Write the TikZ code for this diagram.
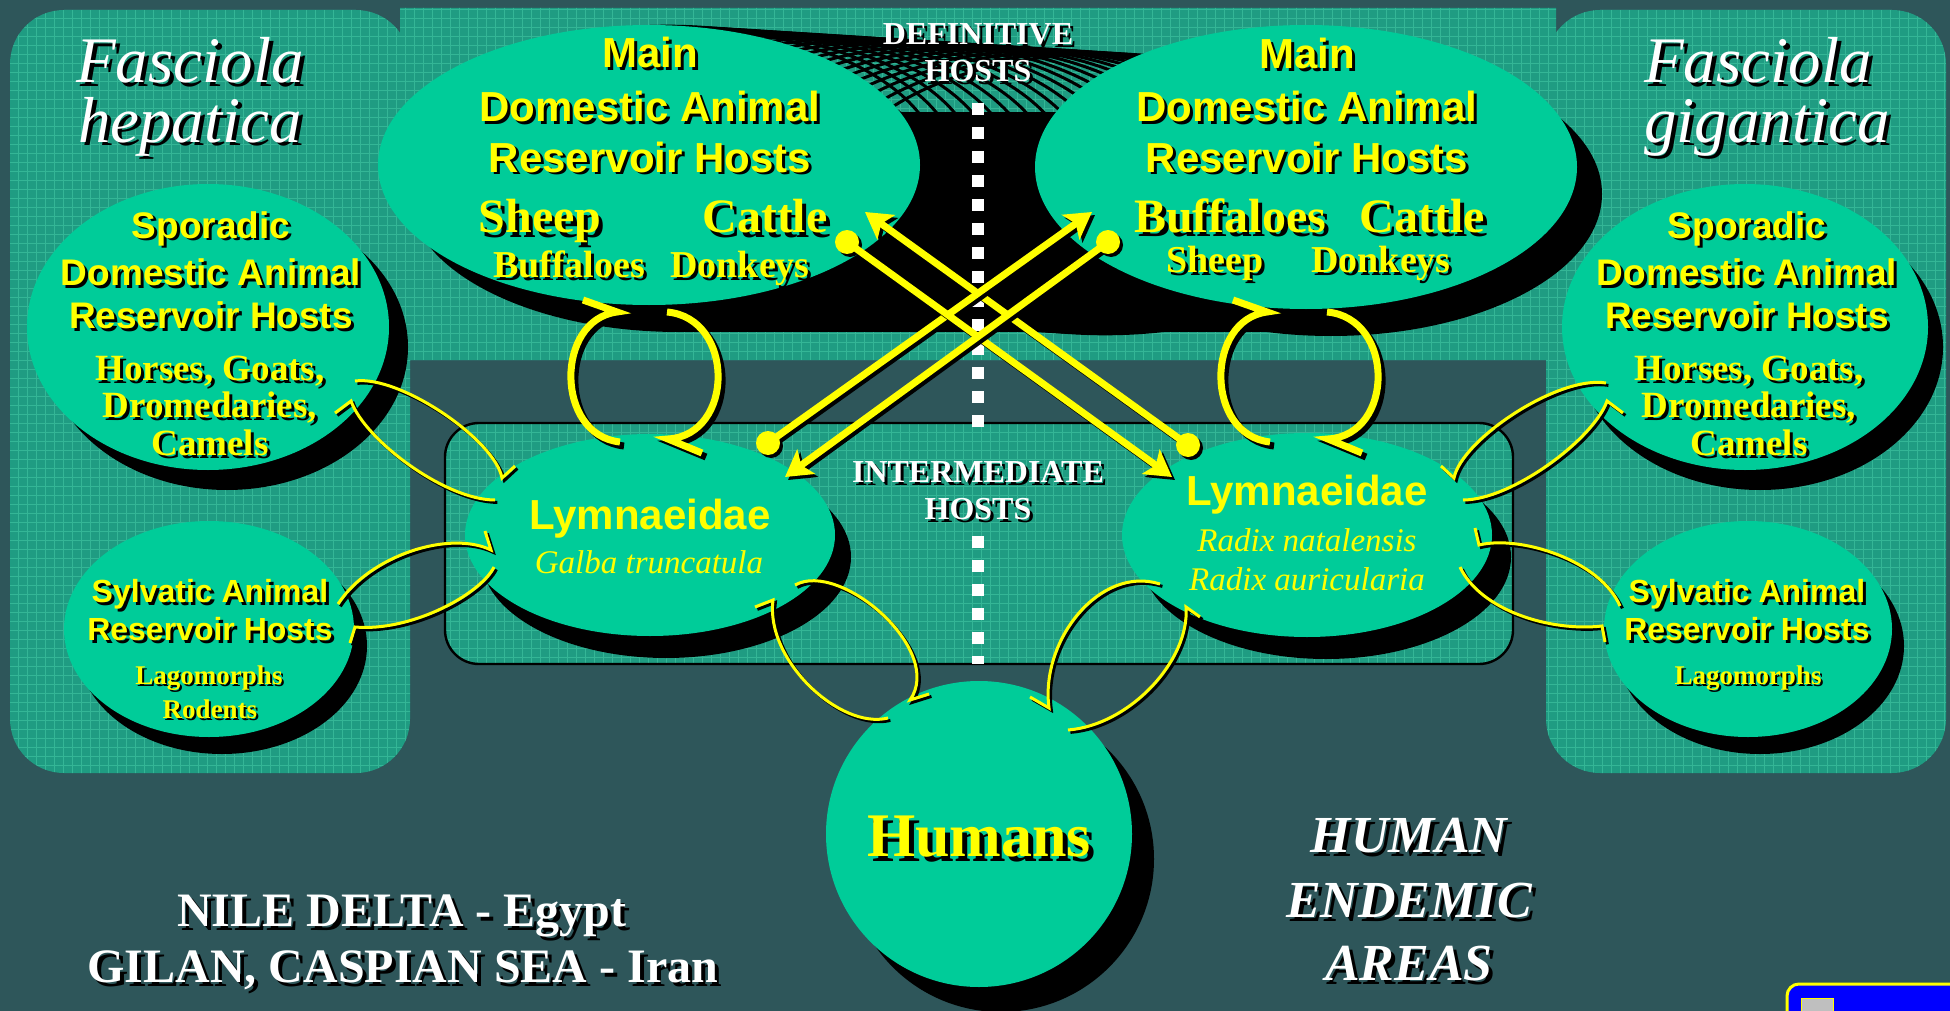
\documentclass[tikz,border=0pt]{standalone}
\usepackage{fontspec}
\setmainfont{Liberation Serif}
\setsansfont{Liberation Sans}
\usetikzlibrary{shapes.geometric,arrows.meta,shadows}
\definecolor{bgdark}{HTML}{2E565A}
\definecolor{panelc}{HTML}{1F9C82}
\definecolor{gridc}{HTML}{46CCA8}
\definecolor{ellc}{HTML}{00CC99}
\definecolor{yel}{HTML}{FFFF00}
\newcommand\stx[6][1.5pt]{%
  \node[#2,text=black,xshift=#1,yshift=-#1] (#5-s) at (#3,#4) {#6};%
  \node[#2] (#5) at (#3,#4) {#6};}
\newcommand\tcurve[7][1.2pt]{%
  \draw[#2,draw=black,transform canvas={xshift=#1,yshift=-#1}] #3 .. controls #4 and #5 .. #6 -- #7;%
  \draw[#2] #3 .. controls #4 and #5 .. #6 -- #7;}
\newcommand\xar[2]{%
  \fill[black,transform canvas={xshift=1.5pt,yshift=-1.5pt}] (#1) circle[radius=6pt];%
  \draw[xarr,draw=black,transform canvas={xshift=1.5pt,yshift=-1.5pt}] (#1) -- (#2);%
  \fill[yel] (#1) circle[radius=6pt];%
  \draw[xarr] (#1) -- (#2);}
\def\tealpath{[rounded corners=27pt] (10,10) rectangle (410,773) (1546,10) rectangle (1946,773)
  [sharp corners] (400,8) rectangle (1556,360)}
\begin{document}
\begin{tikzpicture}[x=0.5pt,y=-0.5pt,
 elln/.style={ellipse,fill=ellc,inner sep=0pt},
 dsh/.style 2 args={drop shadow={shadow xshift=#1,shadow yshift=-#2,fill=black,opacity=1}},
 tx/.style={anchor=base,inner sep=0pt},
 ttl/.style={tx,font=\fontsize{32.5}{36}\selectfont\itshape,text=white},
 hst/.style={tx,font=\fontsize{16}{18}\selectfont\bfseries,text=white},
 msans/.style={tx,font=\sffamily\bfseries\fontsize{21}{24}\selectfont,text=yel},
 bigser/.style={tx,font=\bfseries\fontsize{24}{26}\selectfont,text=yel},
 smser/.style={tx,font=\bfseries\fontsize{19}{21}\selectfont,text=yel},
 ssans/.style={tx,font=\sffamily\bfseries\fontsize{18.5}{20}\selectfont,text=yel},
 sser/.style={tx,font=\bfseries\fontsize{18.5}{20}\selectfont,text=yel},
 sylsans/.style={tx,font=\sffamily\bfseries\fontsize{16}{18}\selectfont,text=yel},
 lagser/.style={tx,font=\bfseries\fontsize{13.5}{15}\selectfont,text=yel},
 lymf/.style={tx,font=\sffamily\bfseries\fontsize{21}{24}\selectfont,text=yel},
 spec/.style={tx,font=\itshape\fontsize{16.5}{18}\selectfont,text=yel},
 humf/.style={tx,font=\bfseries\fontsize{31}{34}\selectfont,text=yel},
 place/.style={tx,font=\bfseries\fontsize{24}{26}\selectfont,text=white},
 endem/.style={tx,font=\bfseries\itshape\fontsize{26}{28}\selectfont,text=white},
 tarc/.style={draw=yel,line width=3.5pt,line join=miter,miter limit=8},
 tloop/.style={draw=yel,line width=1.5pt,line join=miter,miter limit=8},
 xarr/.style={draw=yel,line width=3.5pt,-{Stealth[length=13pt,width=15pt,inset=3pt]}},
]
\useasboundingbox (0,0) rectangle (1950,1011);
% background
\fill[bgdark] (0,0) rectangle (1950,1011);
% teal grid regions
\fill[panelc] \tealpath;
\fill[panelc,rounded corners=17pt] (445,423) rectangle (1513,664);
\begin{scope}
  \clip \tealpath;
  \draw[gridc,line width=0.35pt,opacity=0.55,step=4.5pt] (0,0) grid (1950,1011);
\end{scope}
\begin{scope}
  \clip[rounded corners=17pt] (445,423) rectangle (1513,664);
  \draw[gridc,line width=0.35pt,opacity=0.55,step=4.5pt] (0,0) grid (1950,1011);
\end{scope}
\draw[black,line width=1.2pt,rounded corners=17pt] (445,423) rectangle (1513,664);
% extruded shadow of the definitive-host ellipses
\foreach \k in {1,...,24} {
  \draw[black,line width=1.5pt] (649+\k*19,165+\k*1.2) ellipse[x radius=135.5pt,y radius=70pt];
}
\fill[black] (679,192) ellipse[x radius=135.5pt,y radius=70pt];
\fill[black] (1331,194) ellipse[x radius=135.5pt,y radius=71pt];
\fill[black] (679,112) rectangle (1331,332);
\node[elln,minimum width=271pt,minimum height=140pt] (mainL) at (649,165) {};
\node[elln,minimum width=271pt,minimum height=142pt] (mainR) at (1306,167) {};
% dashed separator
\draw[white,line width=6pt,dash pattern=on 6pt off 6pt] (978,103) -- (978,427);
\draw[white,line width=6pt,dash pattern=on 6pt off 6pt] (978,536) -- (978,664);
% other ellipses
\node[elln,minimum width=181pt,minimum height=143pt,dsh={9.5pt}{10pt}] (spoL) at (208,327) {};
\node[elln,minimum width=183pt,minimum height=143pt,dsh={7.5pt}{10pt}] (spoR) at (1745,327) {};
\node[elln,minimum width=145pt,minimum height=108pt,dsh={6.5pt}{8.5pt}] (sylL) at (209,629) {};
\node[elln,minimum width=144pt,minimum height=108pt,dsh={6pt}{8.5pt}] (sylR) at (1748,629) {};
\node[elln,minimum width=185pt,minimum height=101pt,dsh={8pt}{11pt}] (lymL) at (650,535) {};
\node[elln,minimum width=185pt,minimum height=102pt,dsh={9.5pt}{11pt}] (lymR) at (1307,535) {};
\node[elln,minimum width=153pt,minimum height=153pt,dsh={11pt}{12.5pt}] (hum) at (979,834) {};
% texts
\stx[2pt]{ttl}{190}{83}{tfL}{Fasciola}
\stx[2pt]{ttl}{190}{142}{thL}{hepatica}
\stx[2pt]{ttl}{1758}{83}{tfR}{Fasciola}
\stx[2pt]{ttl}{1767}{142}{tgR}{gigantica}
\stx{hst}{978}{45}{dh1}{DEFINITIVE}
\stx{hst}{978}{82}{dh2}{HOSTS}
\stx{hst}{978}{482}{ih1}{INTERMEDIATE}
\stx{hst}{978}{519}{ih2}{HOSTS}
\stx{msans}{650}{68}{mL1}{Main}
\stx{msans}{650}{122}{mL2}{Domestic Animal}
\stx{msans}{650}{172}{mL3}{Reservoir Hosts}
\stx{msans}{1307}{69}{mR1}{Main}
\stx{msans}{1307}{122}{mR2}{Domestic Animal}
\stx{msans}{1307}{172}{mR3}{Reservoir Hosts}
\stx[2pt]{bigser}{540}{233}{sheepL}{Sheep}
\stx[2pt]{bigser}{765}{233}{cattleL}{Cattle}
\stx[2pt]{bigser}{1230}{232}{buffR}{Buffaloes}
\stx[2pt]{bigser}{1422}{232}{cattleR}{Cattle}
\stx{smser}{569}{277}{buffL}{Buffaloes}
\stx{smser}{740}{277}{donkL}{Donkeys}
\stx{smser}{1215}{272}{sheepR}{Sheep}
\stx{smser}{1381}{272}{donkR}{Donkeys}
\stx{ssans}{211}{238}{sL1}{Sporadic}
\stx{ssans}{211}{285}{sL2}{Domestic Animal}
\stx{ssans}{211}{328}{sL3}{Reservoir Hosts}
\stx{sser}{210}{380}{sL4}{Horses, Goats,}
\stx{sser}{210}{417}{sL5}{Dromedaries,}
\stx{sser}{210}{455}{sL6}{Camels}
\stx{ssans}{1747}{238}{sR1}{Sporadic}
\stx{ssans}{1747}{285}{sR2}{Domestic Animal}
\stx{ssans}{1747}{328}{sR3}{Reservoir Hosts}
\stx{sser}{1749}{380}{sR4}{Horses, Goats,}
\stx{sser}{1749}{417}{sR5}{Dromedaries,}
\stx{sser}{1749}{455}{sR6}{Camels}
\stx{sylsans}{210}{602}{yL1}{Sylvatic Animal}
\stx{sylsans}{210}{640}{yL2}{Reservoir Hosts}
\stx[1pt]{lagser}{209}{684}{yL3}{Lagomorphs}
\stx[1pt]{lagser}{210}{718}{yL4}{Rodents}
\stx{sylsans}{1747}{602}{yR1}{Sylvatic Animal}
\stx{sylsans}{1747}{640}{yR2}{Reservoir Hosts}
\stx[1pt]{lagser}{1748}{684}{yR3}{Lagomorphs}
\node[lymf] (lyL) at (650,529) {Lymnaeidae};
\node[spec] (galba) at (649,573) {Galba truncatula};
\node[lymf] (lyR) at (1307,505) {Lymnaeidae};
\node[spec] (radn) at (1307,551) {Radix natalensis};
\node[spec] (rada) at (1307,590) {Radix auricularia};
\stx[2.5pt]{humf}{979}{856}{humt}{Humans}
\stx[2pt]{place}{402}{926}{nile}{NILE DELTA - Egypt}
\stx[2pt]{place}{403}{982}{gilan}{GILAN, CASPIAN SEA - Iran}
\stx[2pt]{endem}{1409}{852}{he1}{HUMAN}
\stx[2pt]{endem}{1409}{917}{he2}{ENDEMIC}
\stx[2pt]{endem}{1409}{980}{he3}{AREAS}
% thick cycle arcs (definitive <-> intermediate)
\coordinate (aLa1) at (620,442); \coordinate (aLa2) at (617,312);
\coordinate (aLb1) at (667,312); \coordinate (aLb2) at (668,439);
\coordinate (aRa1) at (1270,442); \coordinate (aRa2) at (1267,312);
\coordinate (aRb1) at (1327,312); \coordinate (aRb2) at (1328,439);
\tcurve[2pt]{tarc}{(aLa1)}{(555,435)}{(555,320)}{(aLa2)}{(583,300)}
\tcurve[2pt]{tarc}{(aLb1)}{(735,318)}{(735,435)}{(aLb2)}{(702,453)}
\tcurve[2pt]{tarc}{(aRa1)}{(1205,435)}{(1205,320)}{(aRa2)}{(1233,300)}
\tcurve[2pt]{tarc}{(aRb1)}{(1395,318)}{(1395,435)}{(aRb2)}{(1362,453)}
% thin loops
\coordinate (l1a) at (355,381); \coordinate (l1b) at (502,478);
\coordinate (l1c) at (495,500); \coordinate (l1d) at (351,401);
\tcurve{tloop}{(l1a)}{(400,375)}{(495,440)}{(l1b)}{(515,466)}
\tcurve{tloop}{(l1c)}{(445,500)}{(365,440)}{(l1d)}{(335,413)}
\coordinate (l2a) at (338,604); \coordinate (l2b) at (491,550);
\coordinate (l2c) at (494,567); \coordinate (l2d) at (355,627);
\tcurve{tloop}{(l2a)}{(370,555)}{(450,530)}{(l2b)}{(485,531)}
\tcurve{tloop}{(l2c)}{(480,595)}{(410,632)}{(l2d)}{(350,643)}
\coordinate (l3a) at (795,585); \coordinate (l3b) at (910,700);
\coordinate (l3c) at (888,718); \coordinate (l3d) at (773,600);
\tcurve{tloop}{(l3a)}{(840,560)}{(945,650)}{(l3b)}{(929,694)}
\tcurve{tloop}{(l3c)}{(840,730)}{(765,660)}{(l3d)}{(755,607)}
\coordinate (l4a) at (1160,584); \coordinate (l4b) at (1049,708);
\coordinate (l4c) at (1068,730); \coordinate (l4d) at (1186,607);
\tcurve{tloop}{(l4a)}{(1100,565)}{(1040,640)}{(l4b)}{(1030,697)}
\tcurve{tloop}{(l4c)}{(1130,725)}{(1190,660)}{(l4d)}{(1200,617)}
\coordinate (l5a) at (1606,383); \coordinate (l5b) at (1454,478);
\coordinate (l5c) at (1463,500); \coordinate (l5d) at (1607,401);
\tcurve{tloop}{(l5a)}{(1558,375)}{(1461,440)}{(l5b)}{(1441,466)}
\tcurve{tloop}{(l5c)}{(1511,500)}{(1593,440)}{(l5d)}{(1623,413)}
\coordinate (l6a) at (1620,606); \coordinate (l6b) at (1479,545);
\coordinate (l6c) at (1460,567); \coordinate (l6d) at (1602,626);
\tcurve{tloop}{(l6a)}{(1600,560)}{(1520,535)}{(l6b)}{(1475,528)}
\tcurve{tloop}{(l6c)}{(1480,610)}{(1550,632)}{(l6d)}{(1605,642)}
% crossing arrows
\coordinate (dA) at (847,242); \coordinate (hA) at (1172,477);
\coordinate (dB) at (1188,445); \coordinate (hB) at (865,212);
\coordinate (dC) at (768,443); \coordinate (hC) at (1092,212);
\coordinate (dD) at (1108,242); \coordinate (hD) at (785,477);
\xar{dB}{hB}
\xar{dC}{hC}
\xar{dA}{hA}
\xar{dD}{hD}
% corner button
\draw[yel,line width=1.5pt,fill=blue,rounded corners=6pt] (1787,984) rectangle (1990,1040);
\node[draw=yel,fill=gray!50,line width=0.5pt,minimum width=16pt,minimum height=14pt,inner sep=0pt,anchor=north west] (icon) at (1801,998) {};
\end{tikzpicture}
\end{document}
